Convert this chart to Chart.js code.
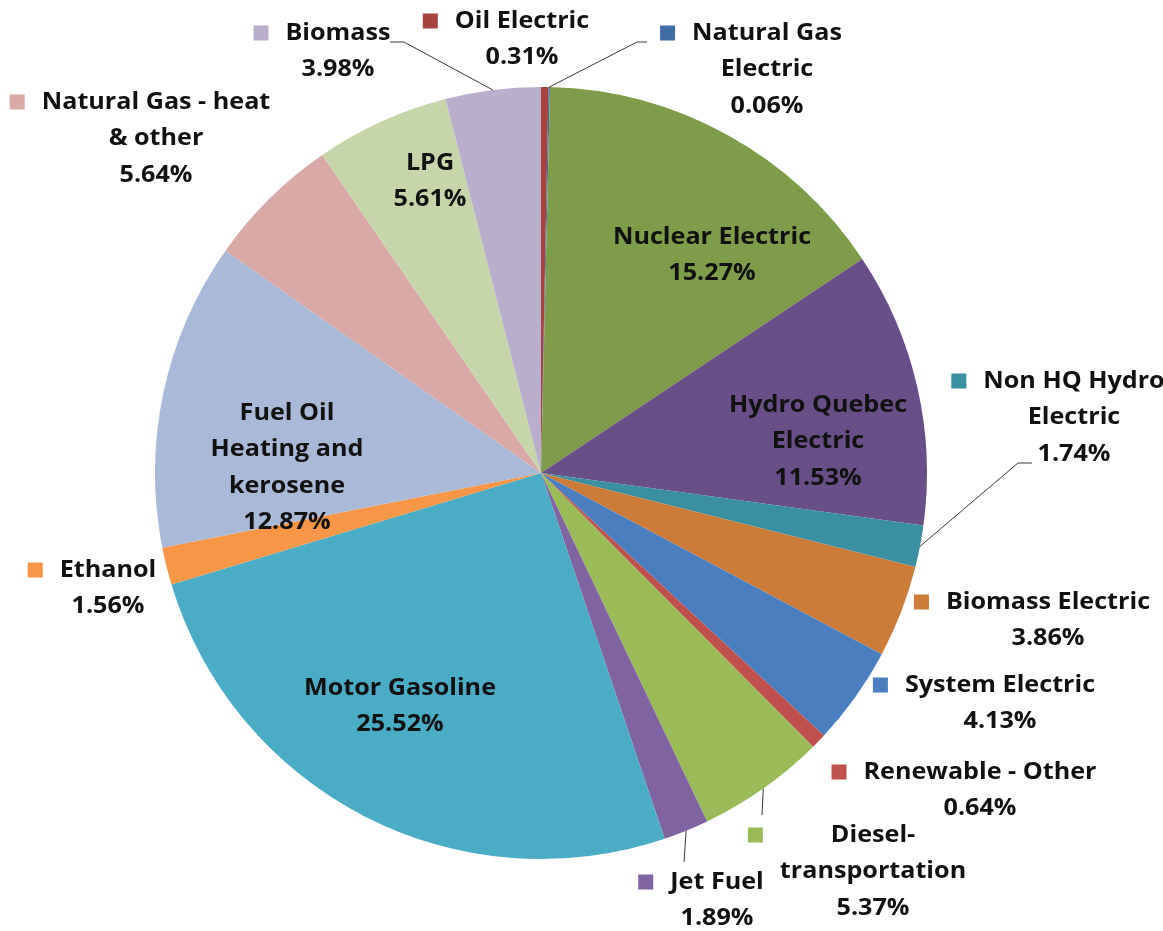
<!DOCTYPE html>
<html>
<head>
<meta charset="utf-8">
<script src="https://cdn.jsdelivr.net/npm/chart.js@4.4.0/dist/chart.umd.min.js"></script>
<style>
  html, body { margin: 0; padding: 0; background: #ffffff; }
  #wrap { width: 1163px; height: 931px; position: relative; }
</style>
</head>
<body>
<div id="wrap"><canvas id="c" width="1163" height="931"></canvas></div>
<script>
// ---- data ----
const categories = [
  "Oil Electric", "Natural Gas Electric", "Nuclear Electric", "Hydro Quebec Electric",
  "Non HQ Hydro Electric", "Biomass Electric", "System Electric", "Renewable - Other",
  "Diesel-transportation", "Jet Fuel", "Motor Gasoline", "Ethanol",
  "Fuel Oil Heating and kerosene", "Natural Gas - heat & other", "LPG", "Biomass"
];
const shares = [0.31, 0.06, 15.27, 11.53, 1.74, 3.86, 4.13, 0.64, 5.37, 1.89, 25.52, 1.56, 12.87, 5.64, 5.61, 3.98];
const labelLines = [
  ["Oil Electric"], ["Natural Gas", "Electric"], ["Nuclear Electric"], ["Hydro Quebec", "Electric"],
  ["Non HQ Hydro", "Electric"], ["Biomass Electric"], ["System Electric"], ["Renewable - Other"],
  ["Diesel-", "transportation"], ["Jet Fuel"], ["Motor Gasoline"], ["Ethanol"],
  ["Fuel Oil", "Heating and", "kerosene"], ["Natural Gas - heat", "& other"], ["LPG"], ["Biomass"]
];

// ---- styles ----
const colors = [
  "#A7423F", "#3F6CA5", "#7F9C4A", "#684F87", "#3A8FA1", "#CC7B39", "#4A7EBF", "#C0504D",
  "#9BBB59", "#8064A2", "#4BACC6", "#F79646", "#AAB9D7", "#D9A9A8", "#C6D6AA", "#B9AECC"
];
// label layout relative to pie centre (px at radius 386): [dx, dy of first line, showKey]
const labelLayout = [
  [-19, -452, true], [226, -440, true], [171, -236, false], [277, -68, false],
  [533, -92, true], [507, 129, true], [459, 212, true], [439, 299, true],
  [332, 362, true], [176, 409, true], [-141, 215, false], [-433, 97, true],
  [-254, -60, false], [-385, -371, true], [-111, -310, false], [-203, -440, true]
];
// leader lines: index -> [startDx, startDy, elbowDx|null, elbowDy|null]
const leaders = {
  15: [-151, -431, -137, -431],
  1: [106, -431, 96, -431],
  4: [491, -10, 477, -10],
  8: [221, 342, null, null],
  9: [143, 389, null, null]
};

const FONT = "bold 24px 'Open Sans', Lato, sans-serif";
const LINE_H = 36.5;
const REF_WORD = "Motor Gasoline";
const REF_WORD_W = 192; // target width of the reference word at radius 386

const labelPlugin = {
  id: 'sliceLabels',
  afterDatasetsDraw(chart) {
    const ctx = chart.ctx;
    const meta = chart.getDatasetMeta(0);
    const a0 = meta.data[0];
    const cx = a0.x, cy = a0.y, R = a0.outerRadius;
    const s = R / 386;
    ctx.save();
    // leader lines
    ctx.strokeStyle = "#3a3a3a";
    ctx.lineWidth = 1;
    Object.keys(leaders).forEach(k => {
      const i = +k;
      const arc = meta.data[i];
      const mid = (arc.startAngle + arc.endAngle) / 2;
      const ex = cx + Math.cos(mid) * R, ey = cy + Math.sin(mid) * R;
      const L = leaders[k];
      ctx.beginPath();
      ctx.moveTo(cx + L[0] * s, cy + L[1] * s);
      if (L[2] !== null) ctx.lineTo(cx + L[2] * s, cy + L[3] * s);
      ctx.lineTo(ex, ey);
      ctx.stroke();
    });
    // labels
    ctx.font = FONT;
    ctx.textAlign = "center";
    ctx.textBaseline = "middle";
    const kx = (REF_WORD_W * s) / ctx.measureText(REF_WORD).width;
    labelLines.forEach((lines, i) => {
      const all = lines.concat([shares[i].toFixed(2) + "%"]);
      const [dx, dy, key] = labelLayout[i];
      const x = cx + dx * s, y0 = cy + dy * s;
      let maxW = 0;
      all.forEach(t => { maxW = Math.max(maxW, ctx.measureText(t).width * kx); });
      ctx.fillStyle = "#111111";
      all.forEach((t, j) => {
        ctx.save();
        ctx.translate(x, y0 + j * LINE_H * s);
        ctx.scale(kx, 1);
        ctx.fillText(t, 0, 0);
        ctx.restore();
      });
      if (key) {
        const left = x - maxW / 2;
        ctx.fillStyle = colors[i];
        ctx.fillRect(left - 17 - 15, y0 - 7.5, 15, 15);
      }
    });
    ctx.restore();
  }
};

new Chart(document.getElementById('c'), {
  type: 'pie',
  data: {
    labels: categories,
    datasets: [{
      data: shares,
      backgroundColor: colors,
      borderWidth: 0
    }]
  },
  options: {
    responsive: false,
    animation: false,
    layout: { padding: { left: 155, right: 236, top: 87, bottom: 72 } },
    plugins: { legend: { display: false }, tooltip: { enabled: false } }
  },
  plugins: [labelPlugin]
});
</script>
</body>
</html>
